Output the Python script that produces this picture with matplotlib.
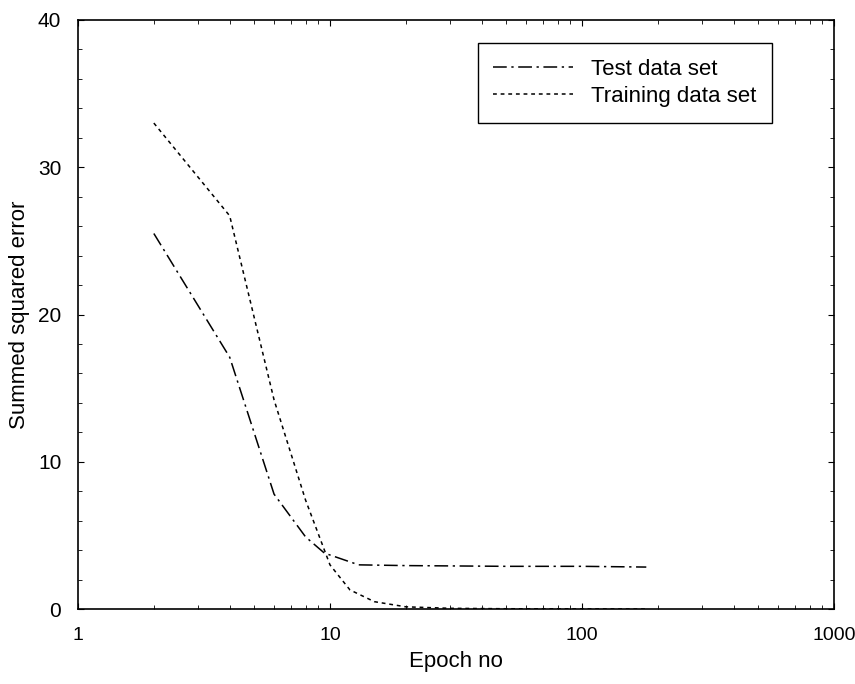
import matplotlib.pyplot as plt
from matplotlib.ticker import FixedLocator, NullFormatter

# データ
test_epoch = [2, 4, 6, 8, 9.5, 13, 20, 50, 100, 180]
test_err = [25.5, 17.1, 7.8, 4.9, 3.8, 3.0, 2.95, 2.9, 2.9, 2.85]
train_epoch = [2, 4, 6, 8, 10, 12, 15, 20, 30, 50, 100, 180]
train_err = [33.0, 26.7, 14.2, 7.4, 3.0, 1.3, 0.5, 0.15, 0.05, 0.02, 0.01, 0.0]

plt.rcParams['font.family'] = ['Liberation Sans', 'DejaVu Sans']

fig = plt.figure(figsize=(8.55, 6.84), dpi=100)
ax = fig.add_axes([0.0912, 0.1096, 0.8842, 0.8612])

ax.plot(test_epoch, test_err, color='black', lw=1.1, dashes=(9, 3, 1.5, 3), label='Test data set')
ax.plot(train_epoch, train_err, color='black', lw=1.1, dashes=(2.5, 2.5), label='Training data set')

ax.set_xscale('log')
ax.set_xlim(1, 1000)
ax.set_ylim(0, 40)
ax.set_xticks([1, 10, 100, 1000])
ax.set_xticklabels(['1', '10', '100', '1000'])
ax.xaxis.set_minor_formatter(NullFormatter())
ax.set_yticks([0, 10, 20, 30, 40])
ax.yaxis.set_minor_locator(FixedLocator([v for v in range(0, 41, 2) if v % 10]))

ax.tick_params(which='both', direction='in', top=True, right=True, labelsize=14)
ax.tick_params(axis='x', pad=13)
ax.tick_params(axis='y', pad=12, labelsize=15)
ax.tick_params(which='major', length=4)
ax.tick_params(which='minor', length=3)
for s in ax.spines.values():
    s.set_linewidth(1.2)

ax.set_xlabel('Epoch no', fontsize=16, labelpad=5)
ax.set_ylabel('Summed squared error', fontsize=16, labelpad=6)

leg = ax.legend(loc='upper right', bbox_to_anchor=(0.918, 0.961), bbox_transform=ax.transAxes,
                fontsize=16, fancybox=False, framealpha=1, edgecolor='black',
                handlelength=3.6, borderpad=0.7, labelspacing=0.3, borderaxespad=0)
leg.get_frame().set_linewidth(1.0)

fig.savefig('out.png', dpi=100)
